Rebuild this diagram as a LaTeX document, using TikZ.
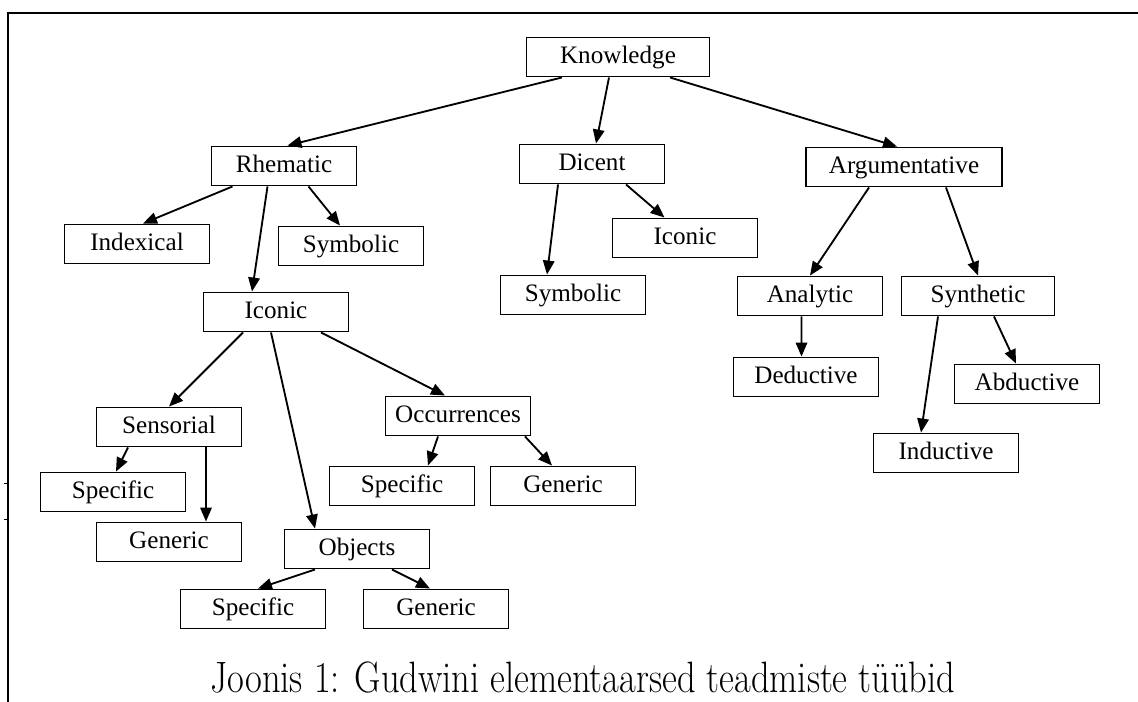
\documentclass[tikz,border=0pt]{standalone}
\usepackage{fontspec}
\newfontfamily\boxfont{Liberation Serif}
\usetikzlibrary{arrows.meta}

\begin{document}
\begin{tikzpicture}[x=0.02cm,y=-0.02cm,
  box/.style={draw,line width=1.1pt,minimum width=2.9cm,minimum height=0.78cm,
    inner sep=0pt,text height=10pt,text depth=3pt,font=\boxfont\fontsize{14.3}{16}\selectfont},
  edge/.style={-{Triangle[length=0.28cm,width=0.23cm]},line width=1.05pt}]
\useasboundingbox (0,0) rectangle (1138,702);
% frame of the page
\draw[line width=1.1pt] (1138,13) -- (8,13) -- (8,702);
\draw[line width=0.4pt] (4,483) -- (8,483);
\draw[line width=0.4pt] (4,519) -- (8,519);
% first level
\node[box,minimum width=3.66cm] (kn) at (618,57) {Knowledge};
\node[box] (rh) at (284,166) {Rhematic};
\node[box] (di) at (592,164) {Dicent};
\node[box,minimum width=3.92cm] (ar) at (904,167) {Argumentative};
% rhematic
\node[box] (ix) at (137,244) {Indexical};
\node[box] (syr) at (351,246) {Symbolic};
\node[box] (icr) at (276,312) {Iconic};
% dicent
\node[box] (icd) at (685,238) {Iconic};
\node[box] (syd) at (573,295) {Symbolic};
% argumentative
\node[box] (an) at (810,296) {Analytic};
\node[box,minimum width=3.06cm] (sy) at (978,296) {Synthetic};
\node[box] (de) at (806,377) {Deductive};
\node[box] (ab) at (1027,384) {Abductive};
\node[box] (ind) at (946,453) {Inductive};
% iconic
\node[box] (se) at (169,427) {Sensorial};
\node[box] (oc) at (458,416) {Occurrences};
\node[box] (ob) at (357,549) {Objects};
\node[box] (sps) at (113,492) {Specific};
\node[box] (ges) at (169,542) {Generic};
\node[box] (spo) at (402,486) {Specific};
\node[box] (geo) at (563,486) {Generic};
\node[box] (spb) at (253,609) {Specific};
\node[box] (geb) at (436,609) {Generic};
% arrows
\draw[edge] ([xshift=-1.12cm]kn.south) -- ([xshift=0.07cm]rh.north);
\draw[edge] ([xshift=-0.18cm]kn.south) -- ([xshift=0.08cm]di.north);
\draw[edge] ([xshift=1.04cm]kn.south) -- ([xshift=-0.14cm]ar.north);
\draw[edge] ([xshift=-1.03cm]rh.south) -- ([xshift=0.12cm]ix.north);
\draw[edge] ([xshift=0.49cm]rh.south) -- ([xshift=-0.22cm]syr.north);
\draw[edge] ([xshift=-0.33cm]rh.south) -- ([xshift=-0.48cm]icr.north);
\draw[edge] ([xshift=-0.68cm]di.south) -- ([xshift=-0.52cm]syd.north);
\draw[edge] ([xshift=0.68cm]di.south) -- ([xshift=-0.41cm]icd.north);
\draw[edge] ([xshift=-0.7cm]ar.south) -- (an.north);
\draw[edge] ([xshift=0.84cm]ar.south) -- (sy.north);
\draw[edge] ([xshift=-0.17cm]an.south) -- ([xshift=-0.09cm]de.north);
\draw[edge] ([xshift=-0.8cm]sy.south) -- ([xshift=-0.5cm]ind.north);
\draw[edge] ([xshift=0.32cm]sy.south) -- ([xshift=-0.22cm]ab.north);
\draw[edge] ([xshift=-0.66cm]icr.south) -- (se.north);
\draw[edge] ([xshift=-0.1cm]icr.south) -- ([xshift=-0.84cm]ob.north);
\draw[edge] ([xshift=0.9cm]icr.south) -- ([xshift=-0.26cm]oc.north);
\draw[edge] ([xshift=-0.82cm]se.south) -- ([xshift=0.06cm]sps.north);
\draw[edge] ([xshift=0.74cm]se.south) -- ([xshift=0.74cm]ges.north);
\draw[edge] ([xshift=-0.4cm]oc.south) -- ([xshift=0.52cm]spo.north);
\draw[edge] ([xshift=1.34cm]oc.south) -- ([xshift=-0.22cm]geo.north);
\draw[edge] ([xshift=-0.84cm]ob.south) -- ([xshift=0.1cm]spb.north);
\draw[edge] ([xshift=0.7cm]ob.south) -- ([xshift=-0.12cm]geb.north);
% caption
\node[anchor=base,font=\fontsize{25}{28}\selectfont] (cap) at (583,692)
  {\scalebox{0.83}[1]{Joonis 1: Gudwini elementaarsed teadmiste tüübid}};
\end{tikzpicture}
\end{document}
